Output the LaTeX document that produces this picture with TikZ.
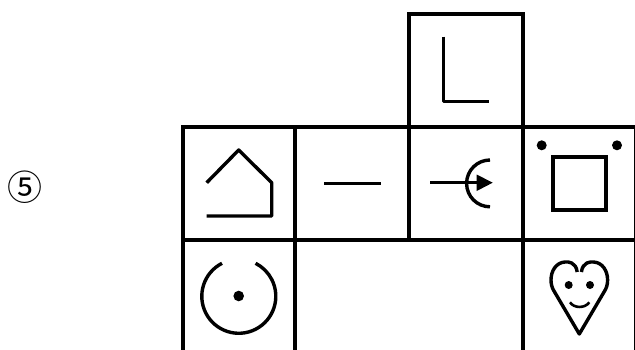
\documentclass[tikz,border=0pt]{standalone}
\usepackage{fontspec}
\newfontfamily\symfont{Noto Sans CJK SC}
\usetikzlibrary{arrows.meta}
\tikzset{
  grid/.style={line width=4.1pt,black,line join=miter,line cap=rect},
  glyph/.style={line width=3.4pt,black,line join=round},
  dotmark/.style={fill=black,draw=none}
}
\begin{document}
\begin{tikzpicture}[x=1pt,y=-1pt]
\useasboundingbox (0,0) rectangle (635,349);
\fill[white] (0,0) rectangle (635,349);
\node[font=\symfont\fontsize{35}{35}\selectfont,inner sep=0pt] (five) at (25.3,186.7) {⑤};
% grid
\draw[grid] (409.4,126.7) -- (409.4,13.7) -- (522.7,13.7) -- (522.7,126.7);
\draw[grid] (182.7,351) -- (182.7,126.7) -- (636,126.7);
\draw[grid] (182.7,239.8) -- (636,239.8);
\draw[grid] (295.3,126.7) -- (295.3,351);
\draw[grid] (409.4,126.7) -- (409.4,239.8);
\draw[grid] (522.7,126.7) -- (522.7,351);
\draw[grid] (636,126.7) -- (636,351);
% L
\draw[glyph] (443.7,36.7) -- (443.7,101.7) -- (489.3,101.7);
% house
\draw[glyph] (206.7,182.7) -- (238.7,150) -- (271.7,182.7) -- (271.7,216) -- (206.7,216);
% dash
\draw[glyph] (324.3,183.3) -- (380.7,183.3);
% arrow and arc
\draw[glyph] (430,182.7) -- (480,182.7);
\fill[black] (492.7,182.7) -- (476.7,174.5) -- (476.7,191) -- cycle;
\draw[glyph] (490,160) arc[start angle=270,end angle=90,radius=23.4];
% square with dots
\draw[line width=3.8pt,black,line join=miter] (552.7,156.7) rectangle (605.7,210);
\fill[dotmark] (541.7,145.3) circle (5);
\fill[dotmark] (617,145.3) circle (5);
% circle with dot
\draw[glyph] (222,263.3) arc[start angle=117,end angle=423,x radius=37,y radius=-37];
\fill[dotmark] (238.7,296) circle (5.3);
% heart
\draw[glyph] (577.2,272) .. controls (576,262) and (568,261.5) .. (565,262)
  .. controls (556,262.5) and (551,271) .. (551,280)
  .. controls (551,284) and (552,288) .. (554,291) -- (579.3,334)
  -- (604.6,291) .. controls (606.6,288) and (607.6,284) .. (607.6,280)
  .. controls (607.6,271) and (602.6,262.5) .. (593.6,262)
  .. controls (590.6,261.5) and (582.6,262) .. (581.4,272);
\fill[dotmark] (568.7,285) circle (4);
\fill[dotmark] (590,285) circle (4);
\draw[line width=2.6pt,black] (570,302.3) .. controls (574,308.5) and (585,308.5) .. (589.3,302.3);
\end{tikzpicture}
\end{document}
